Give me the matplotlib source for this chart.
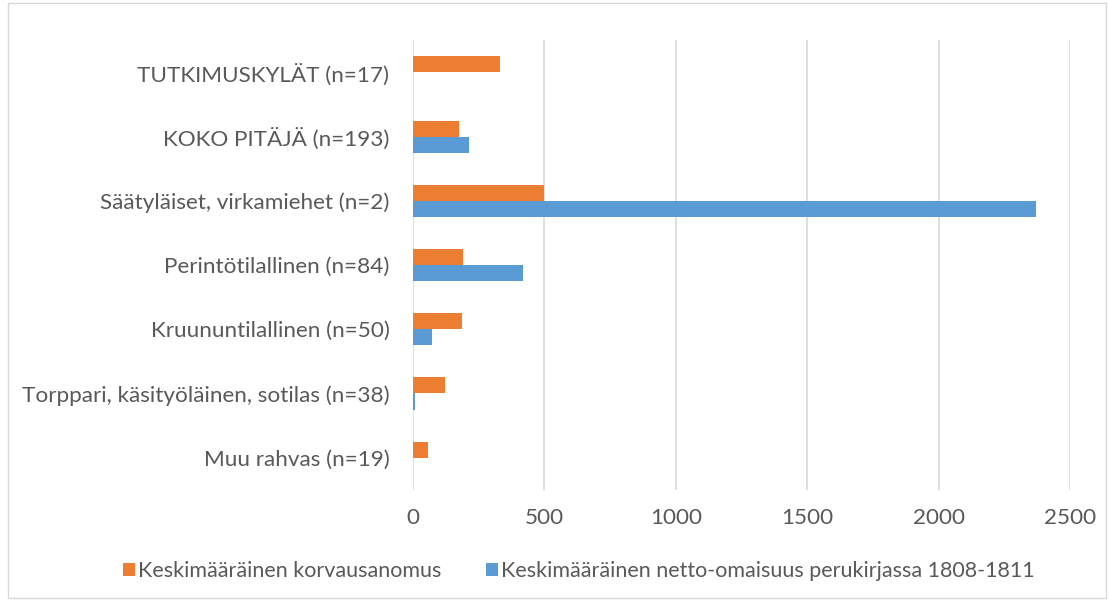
import numpy as np
import matplotlib.pyplot as plt
from matplotlib.patches import Rectangle

categories = ["TUTKIMUSKYLÄT (n=17)", "KOKO PITÄJÄ (n=193)", "Säätyläiset, virkamiehet (n=2)",
              "Perintötilallinen (n=84)", "Kruununtilallinen (n=50)",
              "Torppari, käsityöläinen, sotilas (n=38)", "Muu rahvas (n=19)"]
korvaus = [331, 176, 500, 190, 188, 122, 57]
omaisuus = [0, 214, 2371, 418, 73, 7, 0]
xticks = [0, 500, 1000, 1500, 2000, 2500]

orange = "#ED7D31"
blue = "#5B9BD5"

plt.rcParams["font.family"] = ["Lato", "DejaVu Sans"]
fs = 16.2

fig = plt.figure(figsize=(11.09, 6.01), dpi=100)
ax = fig.add_axes([0.3724, 0.185, 0.5924, 0.748])

y = np.arange(len(categories))[::-1]
h = 0.25
ax.barh(y + h / 2, korvaus, height=h, color=orange, label="Keskimääräinen korvausanomus")
ax.barh(y - h / 2, omaisuus, height=h, color=blue,
        label="Keskimääräinen netto-omaisuus perukirjassa 1808-1811")

ax.set_xlim(0, 2500)
ax.set_ylim(-0.5, len(categories) - 0.5)
ax.set_xticks(xticks)
ax.set_yticks(y)
ax.set_yticklabels(categories)
ax.tick_params(length=0, labelsize=fs, colors="#595959", pad=17)
ax.tick_params(axis="x", pad=13)
ax.grid(axis="x", color="#D9D9D9", linewidth=1.2)
ax.set_axisbelow(True)
for s in ax.spines.values():
    s.set_visible(False)

ax.legend(loc="center", bbox_to_anchor=(0.522, 0.05),
          bbox_transform=fig.transFigure, ncol=2, frameon=False, fontsize=15.5,
          handlelength=0.55, handleheight=0.55, handletextpad=0.15, columnspacing=2.1,
          labelcolor="#595959")

fig.patches.append(Rectangle((0.007, 0.005), 0.99, 0.99, transform=fig.transFigure,
                             fill=False, edgecolor="#D9D9D9", linewidth=1))

fig.savefig("out.png", dpi=100)
